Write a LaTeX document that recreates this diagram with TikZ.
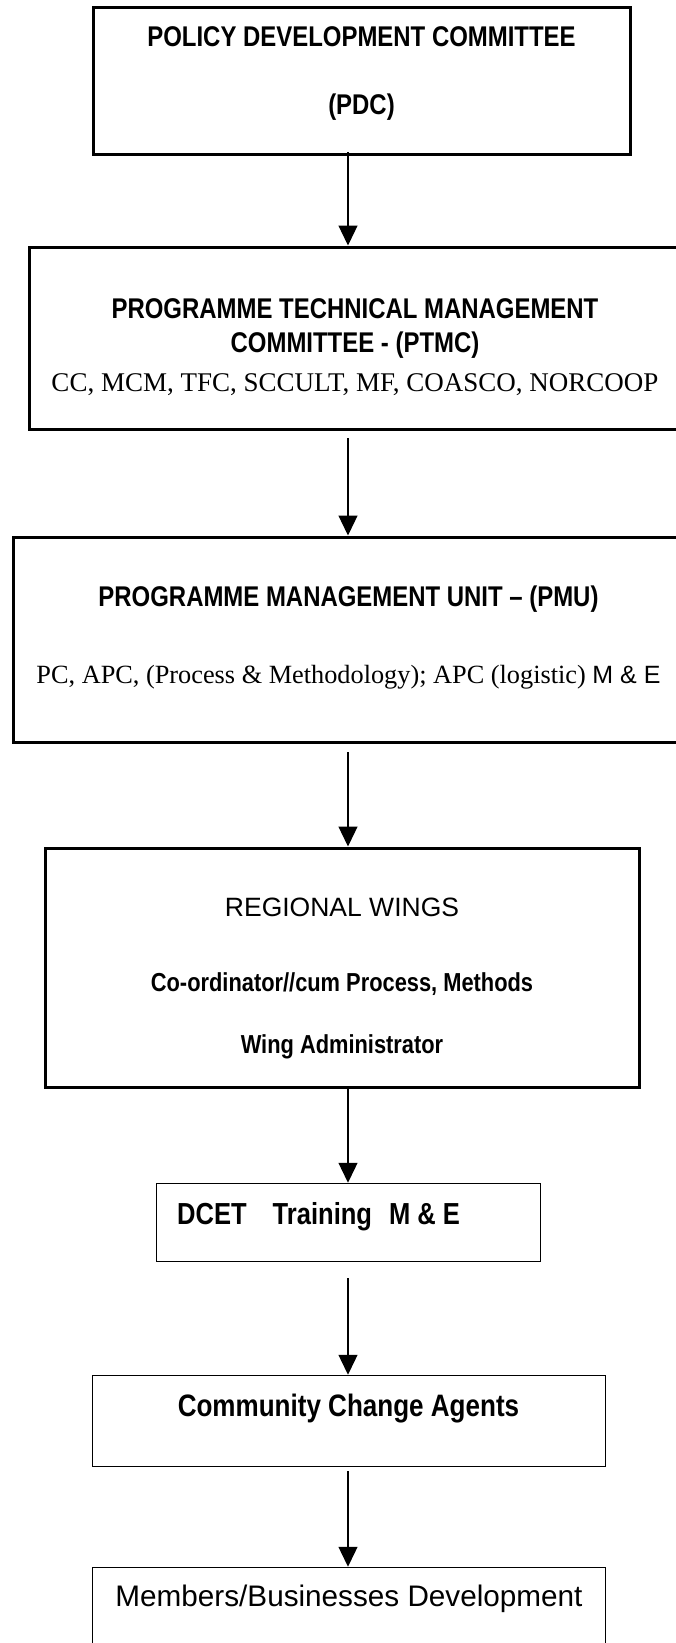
\documentclass[tikz,border=0pt]{standalone}
\usepackage{fontspec}
\setmainfont{Liberation Serif}
\setsansfont{Liberation Sans}
\newfontfamily\narrowsf[FakeStretch=0.84]{Liberation Sans}
\usetikzlibrary{arrows.meta}

\begin{document}
\begin{tikzpicture}[x=1pt,y=-1pt]
	\tikzstyle{heavy}=[rectangle,draw=black,line width=3pt,inner sep=0pt]
	\tikzstyle{light}=[rectangle,draw=black,line width=1.5pt,inner sep=0pt]
	\tikzstyle{txt}=[anchor=base,inner sep=0pt]
	\tikzstyle{head}=[txt,font=\narrowsf\bfseries\fontsize{28.5}{30}\selectfont]
	\tikzstyle{sub}=[txt,font=\narrowsf\bfseries\fontsize{26}{28}\selectfont]
	\tikzstyle{roman}=[txt,font=\rmfamily\fontsize{26.3}{28}\selectfont]
	\tikzstyle{link}=[line width=1.3pt,-{Triangle[width=19pt,length=20pt]}]
	\clip (0,0) rectangle (676,1643);
	\coordinate (axis) at (348,0);
	\node[heavy,minimum width=537pt,minimum height=146pt] (pdc) at (361.5,81) {};
	\node[heavy,minimum width=652.5pt,minimum height=182pt] (ptmc) at (355.75,338) {};
	\node[heavy,minimum width=671.5pt,minimum height=205pt] (pmu) at (349.25,639.5) {};
	\node[heavy,minimum width=594pt,minimum height=239pt] (rw) at (342,967.5) {};
	\node[light,minimum width=384pt,minimum height=78pt] (dcet) at (348.5,1222.5) {};
	\node[light,minimum width=513pt,minimum height=91pt] (cca) at (349,1421) {};
	\node[light,minimum width=513pt,minimum height=112.5pt] (mbd) at (349,1623.75) {};
	\node[head] (pdc1) at (361.5,46.5) {POLICY DEVELOPMENT COMMITTEE};
	\node[head] (pdc2) at (361.5,115) {(PDC)};
	\node[head] (ptmc1) at (355,318) {PROGRAMME TECHNICAL MANAGEMENT};
	\node[head] (ptmc2) at (355,352) {COMMITTEE - (PTMC)};
	\node[roman,font=\rmfamily\fontsize{27}{29}\selectfont] (ptmc3) at (355,391) {CC, MCM, TFC, SCCULT, MF, COASCO, NORCOOP};
	\node[head] (pmu1) at (348.5,606) {PROGRAMME MANAGEMENT UNIT – (PMU)};
	\node[roman] (pmu2) at (348.5,683) {PC, APC, (Process \& Methodology); APC (logistic) {\sffamily\fontsize{25}{27}\selectfont M \& E}};
	\node[txt,font=\sffamily\fontsize{26.5}{28}\selectfont] (rw1) at (342,916) {REGIONAL WINGS};
	\node[sub] (rw2) at (342,991) {Co-ordinator//cum Process, Methods};
	\node[sub] (rw3) at (342,1053) {Wing Administrator};
	\node[txt,anchor=base west,font=\narrowsf\bfseries\fontsize{30.4}{32}\selectfont] (dcet1) at (177,1224) {DCET\hspace{26pt}Training\hspace{17pt}M \& E};
	\node[txt,font=\narrowsf\bfseries\fontsize{31}{33}\selectfont] (cca1) at (348.5,1416.5) {Community Change Agents};
	\node[txt,font=\sffamily\fontsize{29.7}{32}\selectfont] (mbd1) at (349,1606.5) {Members/Businesses Development};
	\draw[link] ([yshift=3.5pt]pdc.south -| axis) -- (ptmc.north -| axis);
	\draw[link] ([yshift=-7.5pt]ptmc.south -| axis) -- (pmu.north -| axis);
	\draw[link] ([yshift=-8.5pt]pmu.south -| axis) -- (rw.north -| axis);
	\draw[link] (rw.south -| axis) -- (dcet.north -| axis);
	\draw[link] ([yshift=-16pt]dcet.south -| axis) -- (cca.north -| axis);
	\draw[link] ([yshift=-4pt]cca.south -| axis) -- (mbd.north -| axis);
\end{tikzpicture}
\end{document}
